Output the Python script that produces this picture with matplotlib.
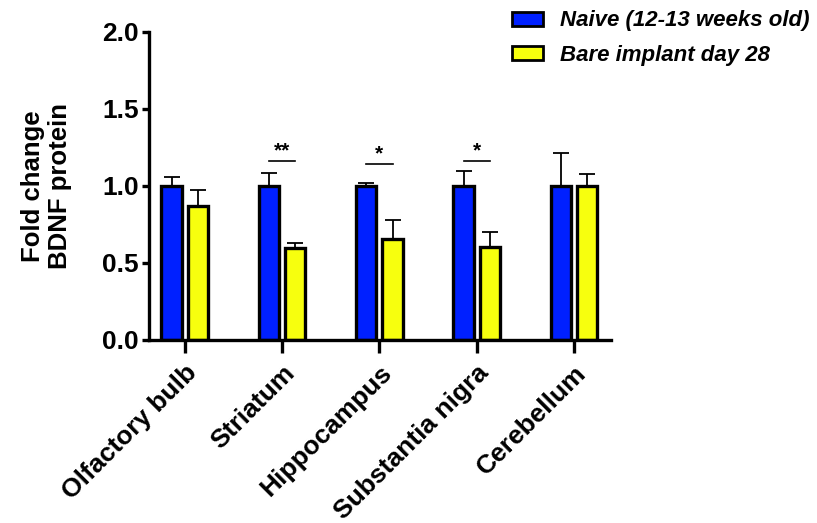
import matplotlib
matplotlib.use("Agg")
import matplotlib.pyplot as plt
import numpy as np

categories = ["Olfactory bulb", "Striatum", "Hippocampus", "Substantia nigra", "Cerebellum"]
naive = [1.0, 1.0, 1.0, 1.0, 1.0]
naive_err = [0.058, 0.086, 0.017, 0.097, 0.216]
implant = [0.872, 0.60, 0.658, 0.606, 1.002]
implant_err = [0.10, 0.032, 0.121, 0.097, 0.076]
series_labels = ["Naive (12-13 weeks old)", "Bare implant day 28"]
sig_idx = [1, 2, 3]
sig_text = ["**", "*", "*"]
sig_y = [1.16, 1.143, 1.164]
yticks = [0.0, 0.5, 1.0, 1.5, 2.0]

plt.rcParams['font.family'] = ['Liberation Sans', 'DejaVu Sans']

fig = plt.figure(figsize=(8.17, 5.23), dpi=100)
ax = fig.add_axes([0.182, 0.35, 0.566, 0.589])

x = np.arange(len(categories))
w = 0.21
off = 0.135
blue = '#0020FF'
yellow = '#F7FF0E'

for xs, vals, errs, col, lab in [(x - off, naive, naive_err, blue, series_labels[0]),
                                 (x + off, implant, implant_err, yellow, series_labels[1])]:
    ax.errorbar(xs, vals, yerr=[np.zeros(len(errs)), errs], fmt='none', ecolor='black',
                elinewidth=1.3, capsize=6, capthick=1.3, zorder=1)
    ax.bar(xs, vals, width=w, color=col, edgecolor='black', linewidth=2.4, label=lab, zorder=2)

for i, t, yy in zip(sig_idx, sig_text, sig_y):
    ax.plot([i - off, i + off], [yy, yy], color='black', lw=1.2)
    ax.text(i, yy + 0.005, t, ha='center', va='bottom', fontsize=15, fontweight='bold')

ax.set_xlim(-0.37, 4.38)
ax.set_ylim(0, 2.0)
ax.set_yticks(yticks)
ax.set_yticklabels([f"{v:.1f}" for v in yticks], fontsize=19, fontweight='bold')
ax.set_xticks(x)
ax.set_xticklabels(categories, rotation=45, ha='right', rotation_mode='anchor',
                   fontsize=19, fontweight='bold')
ax.tick_params(axis='y', width=2.4, length=5, pad=2)
ax.tick_params(axis='x', width=2.4, length=9, pad=6)
for s in ['top', 'right']:
    ax.spines[s].set_visible(False)
for s in ['left', 'bottom']:
    ax.spines[s].set_linewidth(2.4)

ax.set_ylabel("Fold change\nBDNF protein", fontsize=18.5, fontweight='bold', labelpad=22,
              linespacing=1.15)

leg = fig.legend(loc='upper left', bbox_to_anchor=(0.627, 0.98), bbox_transform=fig.transFigure,
                 frameon=False, borderpad=0, borderaxespad=0,
                 prop={'size': 16, 'weight': 'bold', 'style': 'italic'},
                 handlelength=1.4, handleheight=0.6, handletextpad=0.75, labelspacing=0.6)
for p in leg.get_patches():
    p.set_linewidth(2.0)

fig.savefig("out.png", dpi=100)
